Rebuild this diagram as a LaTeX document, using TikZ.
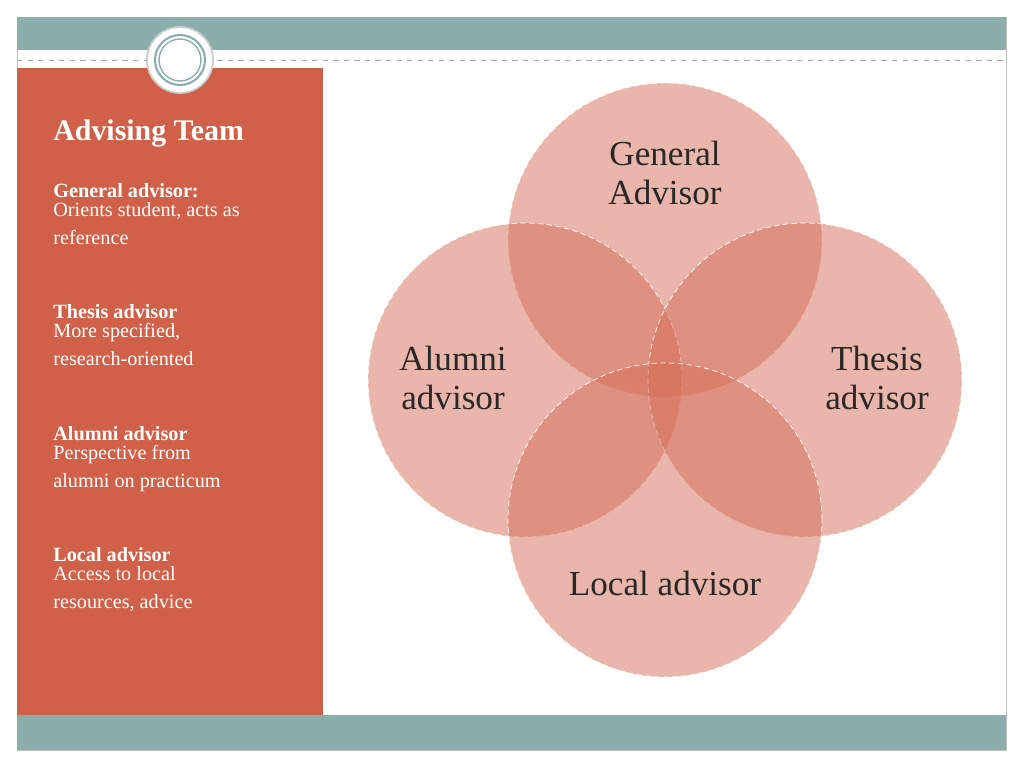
\documentclass[tikz,border=0pt]{standalone}
\usepackage{fontspec}
\setmainfont{Liberation Serif}
\definecolor{teal}{RGB}{138,174,171}
\definecolor{panel}{RGB}{208,96,72}
\definecolor{venn}{RGB}{214,110,88}
\definecolor{ink}{RGB}{40,40,40}
\tikzset{
  ring/.style={circle, minimum size=314*0.02cm, fill=venn, fill opacity=.5, draw=white, densely dashed, thin, text opacity=1},
  clabel/.style={text=ink, font=\fontsize{20}{22}\selectfont, align=center},
  head/.style={anchor=base west, text=white, font=\bfseries\fontsize{11.5}{13}\selectfont, inner sep=0},
  body/.style={anchor=base west, text=white, font=\fontsize{11.5}{15.5}\selectfont, align=left, inner sep=0}
}
\begin{document}
\begin{tikzpicture}[x=0.02cm,y=-0.02cm]
\useasboundingbox (0,0) rectangle (1024,768);
\fill[white] (0,0) rectangle (1024,768);
\draw[gray!50] (17,17) rectangle (1006,750);
\fill[teal] (17,17) rectangle (1006,50);
\fill[teal] (17,715) rectangle (1006,750);
\draw[gray!70, dashed] (17,60) -- (1006,60);
\fill[panel] (17,68) rectangle (323,715);
% emblem
\filldraw[fill=white, draw=gray!40, line width=1pt] (180,60) circle (33);
\draw[teal, line width=1.2pt] (180,60) circle (25);
\draw[teal, line width=.8pt] (180,60) circle (21);
% side text
\node[head, font=\bfseries\fontsize{17}{19}\selectfont] (title) at (53,140) {Advising Team};
\node[head] (h1) at (53,197) {General advisor:};
\node[body] (b1) at (53,244) {Orients student, acts as\\reference};
\node[head] (h2) at (53,318) {Thesis advisor};
\node[body] (b2) at (53,365) {More specified,\\research-oriented};
\node[head] (h3) at (53,440) {Alumni advisor};
\node[body] (b3) at (53,487) {Perspective from\\alumni on practicum};
\node[head] (h4) at (53,561) {Local advisor};
\node[body] (b4) at (53,608) {Access to local\\resources, advice};
% venn
\node[ring] (gen) at (665,240) {};
\node[ring] (alu) at (525,380) {};
\node[ring] (the) at (805,380) {};
\node[ring] (loc) at (665,520) {};
\node[clabel] at (665,173) {General\\Advisor};
\node[clabel] at (453,378) {Alumni\\advisor};
\node[clabel] at (877,378) {Thesis\\advisor};
\node[clabel] at (665,583) {Local advisor};
\end{tikzpicture}
\end{document}
